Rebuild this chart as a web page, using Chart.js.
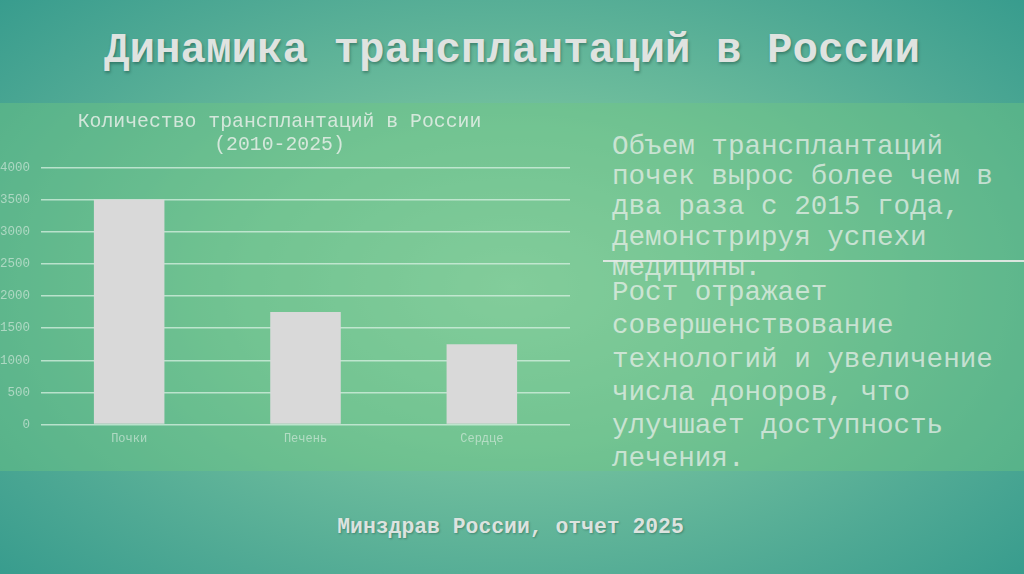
<!DOCTYPE html>
<html lang="ru">
<head>
<meta charset="utf-8">
<script src="https://cdn.jsdelivr.net/npm/chart.js@4"></script>
<style>
  html, body { margin:0; padding:0; }
  body {
    width:1024px; height:574px; overflow:hidden; position:relative;
    background: radial-gradient(ellipse 75% 80% at 50% 50%, #8fd0ad 0%, #74c19e 35%, #4fa994 70%, #2f978b 100%);
    font-family: "Liberation Mono", "DejaVu Sans Mono", monospace;
  }
  #band {
    position:absolute; left:0; top:103px; width:1024px; height:368px;
    background: rgba(112,200,128,0.40);
  }
  #title {
    position:absolute; left:0; top:25px; width:1024px; text-align:center;
    font-weight:bold; font-size:42.5px; line-height:52px; color:#dfe3e0;
    text-shadow: 1px 2px 3px rgba(0,40,30,0.35);
  }
  #footer {
    position:absolute; left:0; top:514px; width:1021px; text-align:center;
    font-weight:bold; font-size:21.4px; line-height:26px; color:#dce3df;
    text-shadow: 1px 1px 2px rgba(0,40,30,0.3);
  }
  .para {
    position:absolute; left:612px; width:412px;
    font-size:27.6px; color:rgba(236,240,236,0.72);
    white-space:pre;
  }
  #p1 { top:132px; line-height:30.2px; }
  #p2 { top:276px; line-height:33.3px; }
  #rule {
    position:absolute; left:603px; top:260px; width:421px; height:2px;
    background:rgba(225,232,228,0.95);
  }
  #wrap { position:absolute; left:-11px; top:100px; width:596px; height:370px; }
</style>
</head>
<body>
<div id="band"></div>
<div id="title">Динамика трансплантаций в России</div>
<div id="wrap"><canvas id="c"></canvas></div>
<div class="para" id="p1">Объем трансплантаций
почек вырос более чем в
два раза с 2015 года,
демонстрируя успехи
медицины.</div>
<div id="rule"></div>
<div class="para" id="p2">Рост отражает
совершенствование
технологий и увеличение
числа доноров, что
улучшает доступность
лечения.</div>
<div id="footer">Минздрав России, отчет 2025</div>
<script>
const categories = ["Почки", "Печень", "Сердце"];
const transplants = [3500, 1750, 1250];
const chartTitle = ["Количество трансплантаций в России", "(2010-2025)"];
const yMin = 0, yMax = 4000, yStep = 500;

const mono = "'Liberation Mono', 'DejaVu Sans Mono', monospace";
new Chart(document.getElementById('c'), {
  type: 'bar',
  data: {
    labels: categories,
    datasets: [{
      data: transplants,
      backgroundColor: '#d9d9d9',
      borderWidth: 0,
      barPercentage: 0.5,
      categoryPercentage: 0.8
    }]
  },
  options: {
    responsive: true,
    maintainAspectRatio: false,
    animation: false,
    layout: { padding: { left: 0, right: 15, top: 0, bottom: 17 } },
    plugins: {
      legend: { display: false },
      tooltip: { enabled: false },
      title: {
        display: true,
        text: chartTitle,
        color: 'rgba(236,240,236,0.82)',
        font: { family: mono, size: 19.8, weight: 'normal', lineHeight: 1.16 },
        padding: { top: 10.5, bottom: 11 }
      }
    },
    scales: {
      x: {
        grid: { display: false, drawTicks: false },
        border: { display: false },
        ticks: {
          color: 'rgba(225,238,230,0.6)',
          font: { family: mono, size: 12 },
          padding: 7
        }
      },
      y: {
        min: yMin, max: yMax,
        grid: { color: 'rgba(215,240,225,0.75)', lineWidth: 1.5, drawTicks: false },
        border: { display: false },
        ticks: {
          stepSize: yStep,
          callback: (v) => String(v),
          color: 'rgba(225,238,230,0.6)',
          font: { family: mono, size: 12.5 },
          padding: 11
        }
      }
    }
  }
});
</script>
</body>
</html>
